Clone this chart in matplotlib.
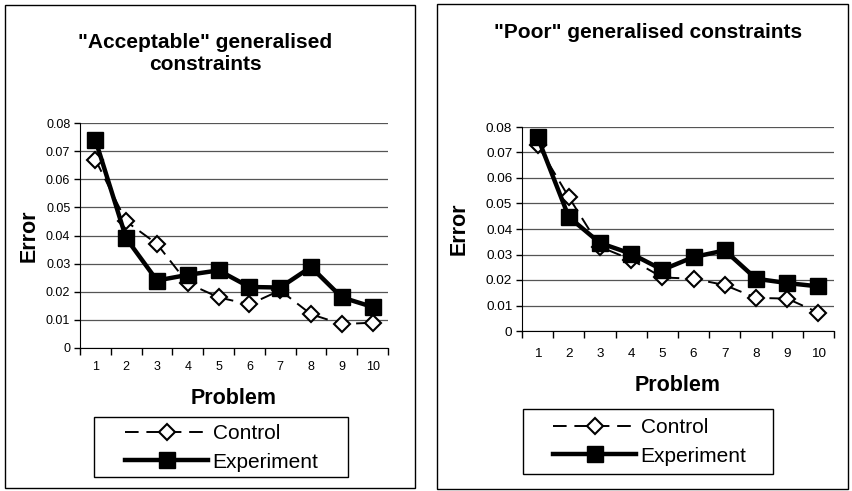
import numpy as np
import matplotlib
matplotlib.use("Agg")
import matplotlib.pyplot as plt
from matplotlib.patches import Rectangle

plt.rcParams['font.family'] = ['Liberation Sans', 'DejaVu Sans']

problems = [1, 2, 3, 4, 5, 6, 7, 8, 9, 10]

# "Acceptable" panel
acc_control = [0.067, 0.045, 0.037, 0.023, 0.018, 0.0155, 0.0205, 0.012, 0.0085, 0.009]
acc_experiment = [0.074, 0.039, 0.024, 0.026, 0.0276, 0.0217, 0.0215, 0.0288, 0.018, 0.0146]

# "Poor" panel
poor_control = [0.073, 0.0525, 0.033, 0.028, 0.021, 0.0205, 0.018, 0.013, 0.0127, 0.0072]
poor_experiment = [0.076, 0.0447, 0.0345, 0.0303, 0.024, 0.029, 0.0316, 0.0205, 0.0188, 0.0175]

y_ticks = [0, 0.01, 0.02, 0.03, 0.04, 0.05, 0.06, 0.07, 0.08]
y_labels = ['0', '0.01', '0.02', '0.03', '0.04', '0.05', '0.06', '0.07', '0.08']

W, H = 853, 491
fig = plt.figure(figsize=(8.53, 4.91), dpi=100)


def box(x0, y0, x1, y1):
    # pixel box (top-left origin) drawn in figure coords
    fig.patches.append(Rectangle((x0/W, 1-y1/H), (x1-x0)/W, (y1-y0)/H, transform=fig.transFigure,
                                 fill=False, edgecolor='black', linewidth=1.0, zorder=5))


# panel frames
box(5, 5, 415, 488)
box(437, 4, 848, 489)


def panel(rect, control, experiment, tick_fs, leg_box, leg_anchor, tick_pad):
    ax = fig.add_axes(rect)
    ax.plot(problems, control, color='black', linestyle=(0, (7, 4)), linewidth=1.4,
            marker='D', markersize=8, markerfacecolor='white', markeredgecolor='black',
            markeredgewidth=1.5, label='Control', zorder=3)
    ax.plot(problems, experiment, color='black', linewidth=3.2,
            marker='s', markersize=11, markerfacecolor='black', markeredgecolor='black',
            label='Experiment', zorder=4)
    ax.set_xlim(0.5, 10.5)
    ax.set_ylim(0, 0.08)
    ax.set_yticks(y_ticks)
    ax.set_yticklabels(y_labels, fontsize=tick_fs)
    ax.set_xticks(np.arange(0.5, 11, 1))
    ax.set_xticklabels([])
    ax.set_xticks(problems, minor=True)
    ax.set_xticklabels([str(p) for p in problems], minor=True, fontsize=tick_fs)
    ax.tick_params(axis='x', which='major', direction='out', length=5, width=1, color='black')
    ax.tick_params(axis='x', which='minor', length=0, pad=tick_pad)
    ax.tick_params(axis='y', direction='out', length=4, width=1, pad=3)
    ax.yaxis.grid(True, color='#555555', linewidth=0.9)
    ax.set_axisbelow(True)
    for s in ['top', 'right']:
        ax.spines[s].set_visible(False)
    ax.set_xlabel('Problem', fontsize=15.5, fontweight='bold')
    ax.set_ylabel('Error', fontsize=15.5, fontweight='bold')
    box(*leg_box)
    ax.legend(loc='center left', bbox_to_anchor=(leg_anchor[0]/W, 1-leg_anchor[1]/H),
              bbox_transform=fig.transFigure, fontsize=15, frameon=False, handlelength=4.0,
              borderpad=0, labelspacing=0.45, handletextpad=0.2, borderaxespad=0)
    return ax


ax1 = panel([80/W, 1-348/H, 308/W, 225/H], acc_control, acc_experiment, 9,
            (94, 417, 348, 477), (125, 448), 9)
ax1.xaxis.set_label_coords(0.5, -0.178)
ax1.yaxis.set_label_coords(-0.13, 0.5)
fig.text(205/W, 1-53/H, '"Acceptable" generalised\nconstraints', ha='center', va='center',
         fontsize=15, fontweight='bold', linespacing=1.2)

ax2 = panel([522/W, 1-331/H, 312/W, 204/H], poor_control, poor_experiment, 9.7,
            (523, 409, 773, 474), (553, 442), 12)
ax2.xaxis.set_label_coords(0.5, -0.216)
ax2.yaxis.set_label_coords(-0.167, 0.5)
fig.text(648/W, 1-32/H, '"Poor" generalised constraints', ha='center', va='center',
         fontsize=15, fontweight='bold')

fig.savefig('out.png', dpi=100)
